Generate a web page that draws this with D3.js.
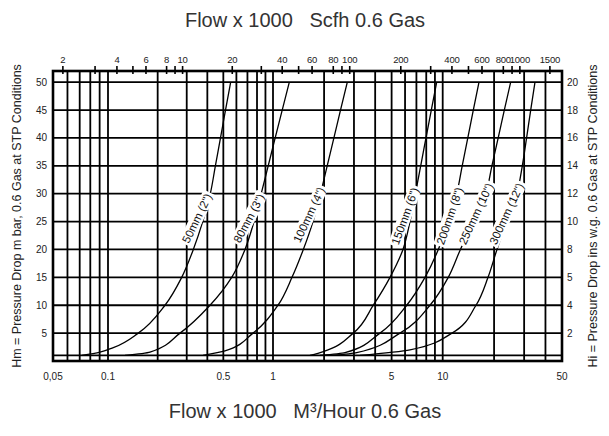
<!DOCTYPE html>
<html>
<head>
<meta charset="utf-8">
<script src="https://cdn.jsdelivr.net/npm/d3@7"></script>
<style>
  body { margin: 0; background: #fff; }
  svg { display: block; font-family: "Liberation Sans", Arial, Helvetica, sans-serif; }
</style>
</head>
<body>
<svg id="chart" width="609" height="436"></svg>
<script>
// Flow in 1000 m3/h (bottom axis) and pressure drop in mbar (left axis)
const bottomTicks = [0.05, 0.1, 0.5, 1, 5, 10, 50];
const bottomText = ['0,05', '0.1', '0.5', '1', '5', '10', '50'];
const xGrid = [0.06, 0.07, 0.08, 0.09, 0.1, 0.2, 0.3, 0.4, 0.5, 0.6, 0.7, 0.8, 0.9,
  1, 2, 3, 4, 5, 6, 7, 8, 9, 10, 20, 30, 40];
const yGrid = [1, 5, 10, 15, 20, 25, 30, 35, 40, 45, 50];
const leftTicks = [5, 10, 15, 20, 25, 30, 35, 40, 45, 50];
const rightTicks = ['2', '4', '5', '8', '10', '12', '14', '16', '18', '20'];
// top axis, Scfh x 1000
const topLabels = [2, 4, 6, 8, 10, 20, 40, 60, 80, 100, 200, 400, 600, 800, 1000, 1500];
const topTicks = [2, 3, 4, 5, 6, 8, 9, 10, 20, 30, 40, 50, 60, 80, 90, 100,
  200, 300, 400, 500, 600, 800, 900, 1000, 1500];
const scfhPerM3 = 35.3147;

// curves: [flow, mbar]
const pipe50 = [[0.0718, 1], [0.0904, 1.6], [0.1077, 2.4], [0.1526, 5], [0.2215, 10], [0.2797, 15],
  [0.3289, 20], [0.375, 25], [0.4169, 30], [0.4475, 35], [0.4806, 40], [0.5154, 45], [0.5541, 50]];
const pipe80 = [[0.1268, 1], [0.1797, 1.6], [0.2732, 5], [0.4152, 10], [0.5619, 15], [0.6766, 20],
  [0.7671, 25], [0.8482, 30], [0.9352, 35], [1.03, 40], [1.133, 45], [1.248, 50]];
const pipe100 = [[0.3765, 1], [0.5118, 1.8], [0.7565, 5], [1.07, 10], [1.294, 15], [1.509, 20],
  [1.721, 25], [1.905, 30], [2.086, 35], [2.285, 40], [2.499, 45], [2.741, 50]];
const pipe150 = [[1.652, 1], [1.979, 1.7], [2.973, 5], [3.899, 10], [4.892, 15], [5.834, 20],
  [6.416, 25], [6.904, 30], [7.42, 35], [7.97, 40], [8.566, 45], [9.219, 50]];
const pipe200 = [[1.892, 1], [2.657, 1.5], [4.271, 5], [6.137, 10], [7.865, 15], [9.421, 20],
  [10.74, 25], [12.08, 30], [13.01, 35], [14.03, 40], [15.11, 45], [16.32, 50]];
const pipe250 = [[2.258, 1], [3.113, 1.5], [5.603, 5], [8.418, 10], [10.78, 15], [12.7, 20],
  [15.2, 25], [17.89, 30], [19.42, 35], [21.14, 40], [22.96, 45], [25.02, 50]];
const pipe300 = [[3.256, 1], [6.416, 2], [11.34, 5], [15.67, 10], [18.43, 15], [20.8, 20],
  [23.8, 25], [27.2, 30], [29.27, 35], [31.01, 40], [32.78, 45], [34.73, 50]];

const pipeLabels = ['50mm (2")', '80mm (3")', '100mm (4")', '150mm (6")', '200mm (8")', '250mm (10")', '300mm (12")'];
const labelFlow = [0.346, 0.715, 1.63, 6.0, 11.0, 15.67, 23.65];
const labelMbar = [25.6, 25.6, 26.2, 26.0, 26.0, 26.4, 26.4];
const labelAngle = [-64, -62, -65, -70, -71, -65, -65];

const svg = d3.select('#chart');

// log scale, drawn a little uneven in the first decade like the original sheet
const x = d3.scaleLog()
  .domain([0.05, 0.1, 1, 10, 50])
  .range([53, 108, 273, 442.7, 562]);
const y = d3.scaleLinear()
  .domain([0, 52])
  .range([361, 71]);

const plotLeft = x(0.05), plotRight = x(50), plotTop = y(52), plotBottom = y(0);

// titles
svg.append('text')
  .attr('x', 305).attr('y', 27)
  .attr('text-anchor', 'middle')
  .style('white-space', 'pre')
  .style('font-size', '20px').style('fill', '#333')
  .text('Flow x 1000   Scfh 0.6 Gas');

svg.append('text')
  .attr('x', 305).attr('y', 418)
  .attr('text-anchor', 'middle')
  .style('white-space', 'pre')
  .style('font-size', '20px').style('fill', '#333')
  .text('Flow x 1000   M³/Hour 0.6 Gas');

svg.append('text')
  .attr('transform', `translate(21,${(plotTop + plotBottom) / 2}) rotate(-90)`)
  .attr('text-anchor', 'middle')
  .style('font-size', '12.5px').style('fill', '#222')
  .text('Hm = Pressure Drop m bar, 0.6 Gas at STP Conditions');

svg.append('text')
  .attr('transform', `translate(597,${(plotTop + plotBottom) / 2}) rotate(-90)`)
  .attr('text-anchor', 'middle')
  .style('font-size', '12.5px').style('fill', '#222')
  .text('Hi = Pressure Drop ins w.g. 0.6 Gas at STP Conditions');

// grid
const grid = svg.append('g');
grid.selectAll('.vline')
  .data(xGrid)
  .join('line')
  .attr('x1', (d) => x(d)).attr('x2', (d) => x(d))
  .attr('y1', plotTop).attr('y2', plotBottom)
  .attr('stroke', '#000').attr('stroke-width', 1.8);

grid.selectAll('.hline')
  .data(yGrid)
  .join('line')
  .attr('x1', plotLeft).attr('x2', plotRight)
  .attr('y1', (d) => y(d)).attr('y2', (d) => y(d))
  .attr('stroke', '#000').attr('stroke-width', 1.8);

// frame
svg.append('rect')
  .attr('x', plotLeft).attr('y', plotTop)
  .attr('width', plotRight - plotLeft).attr('height', plotBottom - plotTop)
  .attr('fill', 'none').attr('stroke', '#000').attr('stroke-width', 2.6);

// top axis (Scfh)
const xTop = (d) => x(d / scfhPerM3);
svg.append('g')
  .selectAll('line')
  .data(topTicks)
  .join('line')
  .attr('x1', xTop).attr('x2', xTop)
  .attr('y1', plotTop - 5).attr('y2', plotTop + 3)
  .attr('stroke', '#000').attr('stroke-width', 1.6);

svg.append('g')
  .selectAll('text')
  .data(topLabels)
  .join('text')
  .attr('x', xTop).attr('y', plotTop - 8)
  .attr('text-anchor', 'middle')
  .style('font-size', '9.5px').style('fill', '#222')
  .style('letter-spacing', '-0.2px')
  .text((d) => d);

// bottom axis labels
svg.append('g')
  .selectAll('text')
  .data(bottomTicks)
  .join('text')
  .attr('x', (d) => x(d)).attr('y', plotBottom + 19)
  .attr('text-anchor', 'middle')
  .style('font-size', '10px').style('fill', '#222')
  .text((d, i) => bottomText[i]);

// left axis labels
svg.append('g')
  .selectAll('text')
  .data(leftTicks)
  .join('text')
  .attr('x', plotLeft - 6).attr('y', (d) => y(d) + 3.5)
  .attr('text-anchor', 'end')
  .style('font-size', '10px').style('fill', '#222')
  .text((d) => d);

// right axis labels (ins w.g.)
svg.append('g')
  .selectAll('text')
  .data(rightTicks)
  .join('text')
  .attr('x', plotRight + 5).attr('y', (d, i) => y(leftTicks[i]) + 3.5)
  .attr('text-anchor', 'start')
  .style('font-size', '10px').style('fill', '#222')
  .text((d) => d);

// pressure drop curves
const line = d3.line()
  .curve(d3.curveMonotoneY)
  .x((d) => x(d[0]))
  .y((d) => y(d[1]));

const pipes = [pipe50, pipe80, pipe100, pipe150, pipe200, pipe250, pipe300];
svg.append('g')
  .selectAll('path')
  .data(pipes)
  .join('path')
  .attr('d', line)
  .attr('fill', 'none')
  .attr('stroke', '#000')
  .attr('stroke-width', 1.3);

// curve labels on white boxes
const lbl = svg.append('g')
  .selectAll('g')
  .data(pipeLabels)
  .join('g')
  .attr('transform', (d, i) => `translate(${x(labelFlow[i])},${y(labelMbar[i])}) rotate(${labelAngle[i]})`);

lbl.append('text')
  .attr('text-anchor', 'middle')
  .attr('y', 4)
  .style('font-size', '11.5px').style('fill', '#111')
  .text((d) => d)
  .each(function () {
    const b = this.getBBox();
    d3.select(this.parentNode).insert('rect', 'text')
      .attr('x', b.x - 2).attr('y', b.y - 0.5)
      .attr('width', b.width + 4).attr('height', b.height + 1)
      .attr('fill', '#fff');
  });
</script>
</body>
</html>
